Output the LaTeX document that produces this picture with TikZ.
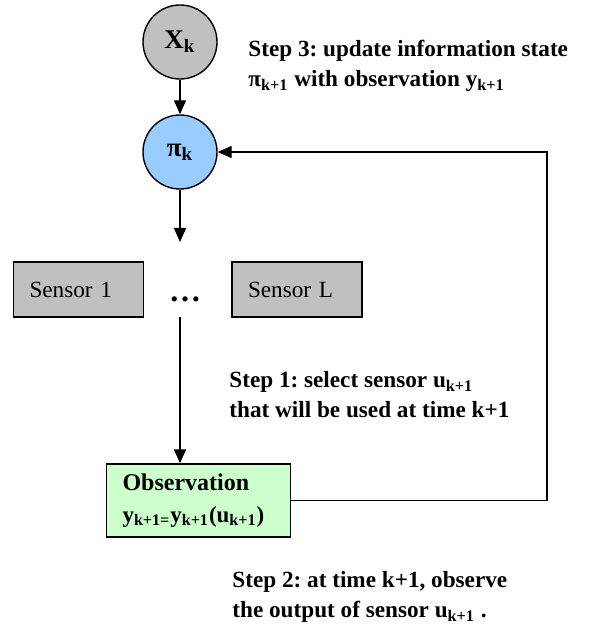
\documentclass[tikz,border=0pt]{standalone}
\usepackage{fontspec}
\setmainfont{Liberation Serif}
\usetikzlibrary{arrows.meta}
\frenchspacing
\tikzset{
  state/.style={circle, draw, line width=0.7pt, minimum size=37pt, inner sep=0pt, font=\fontsize{13.5}{15}\bfseries},
  sensorbox/.style={draw, line width=0.7pt, fill=sensorgray, minimum height=27.5pt, text width=49pt, inner xsep=8pt, align=left, font=\fontsize{11.6}{13}\selectfont},
  stepnote/.style={anchor=north west, align=left, inner sep=0pt, font=\fontsize{11.6}{15}\bfseries},
  flow/.style={line width=0.7pt, -{Triangle[length=7pt, width=6pt]}},
}
\definecolor{sensorgray}{HTML}{C0C0C0}
\definecolor{stateblue}{HTML}{99CCFF}
\definecolor{obsgreen}{HTML}{CCFFCC}
\begin{document}
\begin{tikzpicture}[x=0.5pt, y=-0.5pt]
\useasboundingbox (0,0) rectangle (600,624);
\node[state, fill=sensorgray] (xk) at (180,42){X\textsubscript{k}};
\node[state, fill=stateblue] (pik) at (180,152){π\textsubscript{k}};
\node[sensorbox] (sensor1) at (78.5,289.5){Sensor 1};
\node[anchor=base, inner sep=0pt, font=\fontsize{16}{16}\bfseries] (dots) at (185,301){…};
\node[sensorbox] (sensorL) at (297,289.5){Sensor L};
\node[draw, line width=0.7pt, fill=obsgreen, minimum height=36.5pt, text width=76pt, inner xsep=8pt, align=left, font=\fontsize{12}{16}\bfseries] (obs) at (198.5,500.5){Observation\\{\fontsize{11.5}{16}\selectfont y\textsubscript{k+1=}y\textsubscript{k+1}(u\textsubscript{k+1})}};
\coordinate (dotstop) at (180,242);
\coordinate (dotsbot) at (180,317);
\coordinate (back) at (547,500.5);
\draw[flow](xk) -- (pik);
\draw[flow](pik) -- (dotstop);
\draw[flow](dotsbot) -- (dotsbot |- obs.north);
\draw[flow](obs.east) -- (back) |- (pik.east);
% step notes
\node[stepnote] (step3) at (248,40){Step 3: update information state\\π\textsubscript{k+1} with observation y\textsubscript{k+1}};
\node[stepnote] (step1) at (229,371){Step 1: select sensor u\textsubscript{k+1}\\that will be used at time k+1};
\node[stepnote] (step2) at (232,571){Step 2: at time k+1, observe\\the output of sensor u\textsubscript{k+1} .};
\end{tikzpicture}
\end{document}
